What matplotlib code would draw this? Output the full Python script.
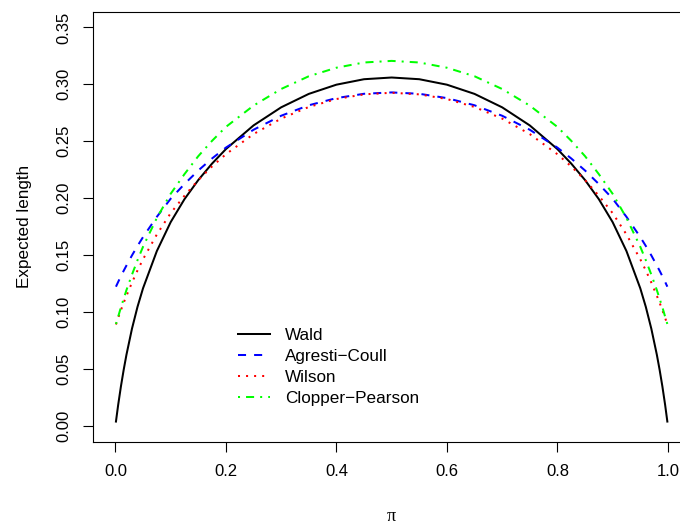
import matplotlib
matplotlib.use('Agg')
import matplotlib.pyplot as plt

# expected length of the four intervals
pi_vals = [0.001, 0.005, 0.01, 0.015, 0.02, 0.03, 0.04, 0.05, 0.075, 0.1,
           0.125, 0.15, 0.175, 0.2, 0.25, 0.3, 0.35, 0.4, 0.45, 0.5,
           0.55, 0.6, 0.65, 0.7, 0.75, 0.8, 0.825, 0.85, 0.875, 0.9,
           0.925, 0.95, 0.96, 0.97, 0.98, 0.985, 0.99, 0.995, 0.999]

wald = [0.0037, 0.0183, 0.0346, 0.0492, 0.0624, 0.0853, 0.1045, 0.1208, 0.1535, 0.1789,
        0.1991, 0.2159, 0.2304, 0.2431, 0.2639, 0.2798, 0.2916, 0.2997, 0.3045, 0.3060,
        0.3045, 0.2997, 0.2916, 0.2798, 0.2639, 0.2431, 0.2304, 0.2159, 0.1991, 0.1789,
        0.1535, 0.1208, 0.1045, 0.0853, 0.0624, 0.0492, 0.0346, 0.0183, 0.0037]

agresti = [0.1222, 0.1264, 0.1314, 0.1362, 0.1408, 0.1497, 0.1580, 0.1658, 0.1836, 0.1995,
           0.2124, 0.2243, 0.2349, 0.2444, 0.2601, 0.2724, 0.2816, 0.2879, 0.2917, 0.2929,
           0.2917, 0.2879, 0.2816, 0.2724, 0.2601, 0.2444, 0.2349, 0.2243, 0.2124, 0.1995,
           0.1836, 0.1658, 0.1580, 0.1497, 0.1408, 0.1362, 0.1314, 0.1264, 0.1222]

wilson = [0.0890, 0.0948, 0.1016, 0.1081, 0.1142, 0.1258, 0.1365, 0.1463, 0.1681, 0.1868,
          0.2021, 0.2159, 0.2279, 0.2386, 0.2563, 0.2699, 0.2801, 0.2871, 0.2912, 0.2926,
          0.2912, 0.2871, 0.2801, 0.2699, 0.2563, 0.2386, 0.2279, 0.2159, 0.2021, 0.1868,
          0.1681, 0.1463, 0.1365, 0.1258, 0.1142, 0.1081, 0.1016, 0.0948, 0.0890]

clopper = [0.0894, 0.0958, 0.1041, 0.1116, 0.1192, 0.1328, 0.1455, 0.1573, 0.1826, 0.2038,
           0.2211, 0.2369, 0.2504, 0.2626, 0.2813, 0.2959, 0.3071, 0.3146, 0.3192, 0.3206,
           0.3192, 0.3146, 0.3071, 0.2959, 0.2813, 0.2626, 0.2504, 0.2369, 0.2211, 0.2038,
           0.1826, 0.1573, 0.1455, 0.1328, 0.1192, 0.1116, 0.1041, 0.0958, 0.0894]

labels = ['Wald', 'Agresti\u2212Coull', 'Wilson', 'Clopper\u2212Pearson']
x_ticks = [0.0, 0.2, 0.4, 0.6, 0.8, 1.0]
y_ticks = [0.00, 0.05, 0.10, 0.15, 0.20, 0.25, 0.30, 0.35]

plt.rcParams['font.family'] = ['Liberation Sans', 'DejaVu Sans']
plt.rcParams['font.size'] = 12

W, H = 680, 524
fig = plt.figure(figsize=(W / 100, H / 100), dpi=100)
# box runs past the right edge of the picture, like the cropped original
ax = fig.add_axes([93.3 / W, (H - 441.7) / H, (690 - 93.3) / W, 430.2 / H])

lw = 1.45
ax.plot(pi_vals, wald, color='black', lw=lw, label=labels[0])
ax.plot(pi_vals, agresti, color='#0000ff', lw=lw, linestyle=(0, (4, 4)), label=labels[1])
ax.plot(pi_vals, wilson, color='#ff0000', lw=lw, linestyle=(0, (1, 3)), label=labels[2])
ax.plot(pi_vals, clopper, color='#00ff00', lw=lw, linestyle=(0, (1, 3, 4, 3)), label=labels[3])

ax.set_xlim(-0.04, 1.04)
ax.set_ylim(-0.014, 0.364)
ax.set_xticks(x_ticks)
ax.set_xticklabels(['%.1f' % v for v in x_ticks])
ax.set_yticks(y_ticks)
ax.set_yticklabels(['%.2f' % v for v in y_ticks], rotation=90, va='center')
ax.tick_params(length=7, width=0.8, pad=9, labelsize=12)
for s in ax.spines.values():
    s.set_linewidth(0.8)

fig.text(391 / W, 1 - 516.7 / H, '\u03c0', ha='center', va='center',
         fontsize=13, family=['Liberation Serif', 'DejaVu Serif'])
fig.text(25 / W, 1 - 226 / H, 'Expected length', ha='center', va='center',
         rotation=90, fontsize=12.3)

ax.legend(loc='upper left', bbox_to_anchor=(238 / W, 1 - 327.5 / H),
          bbox_transform=fig.transFigure, frameon=False, fontsize=12.3,
          handlelength=1.9, handletextpad=0.85, labelspacing=0.36, borderpad=0,
          borderaxespad=0)

fig.savefig('out.png', dpi=100)
